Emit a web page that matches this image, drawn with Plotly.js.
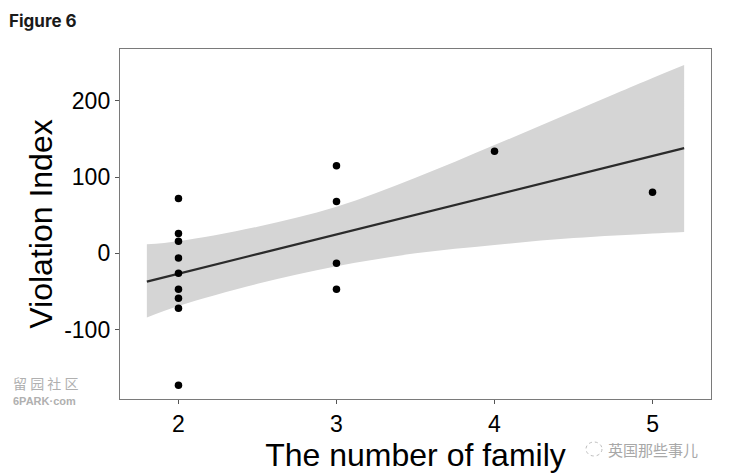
<!DOCTYPE html>
<html>
<head>
<meta charset="utf-8">
<script src="https://cdn.plot.ly/plotly-3.0.1.min.js"></script>
<style>
  html, body { margin: 0; padding: 0; background: #fff; }
  #chart { width: 736px; height: 476px; }
</style>
</head>
<body>
<div id="chart"></div>
<script>
// Observed points
const familyX = [2, 2, 2, 2, 2, 2, 2, 2, 2, 3, 3, 3, 3, 4, 5];
const violationY = [72, 26, 16, -6, -26, -47, -59, -72, -173, 115, 68, -13, -47, 134, 80];

// Fitted regression line
const fitX = [1.8, 5.2];
const fitY = [-37, 138];

// Confidence band edges
const bandX = [1.8, 2, 2.5, 3, 3.5, 4, 4.5, 5, 5.2];
const bandUpper = [12, 16, 35, 61, 99, 142, 186, 230, 247];
const bandLower = [-84, -69, -40, -17, 0, 11, 20, 26, 28];

// Axis ticks
const xTicks = [2, 3, 4, 5];
const yTicks = [-100, 0, 100, 200];

const FONT = 'Liberation Sans, Arial, Helvetica, sans-serif';

const traces = [
  {
    x: bandX, y: bandLower, type: 'scatter', mode: 'lines',
    line: { width: 0, color: 'rgba(0,0,0,0)', shape: 'spline', smoothing: 1 },
    hoverinfo: 'skip', showlegend: false
  },
  {
    x: bandX, y: bandUpper, type: 'scatter', mode: 'lines',
    line: { width: 0, color: 'rgba(0,0,0,0)', shape: 'spline', smoothing: 1 },
    fill: 'tonexty', fillcolor: 'rgb(213,213,213)', hoverinfo: 'skip', showlegend: false
  },
  {
    x: fitX, y: fitY, type: 'scatter', mode: 'lines',
    line: { width: 2.2, color: '#2b2b2b' }, showlegend: false
  },
  {
    x: familyX, y: violationY, type: 'scatter', mode: 'markers',
    marker: { size: 7.5, color: '#000' }, showlegend: false
  }
];

const layout = {
  width: 736, height: 476,
  margin: { l: 120, r: 25, t: 49, b: 77 },
  paper_bgcolor: '#fff', plot_bgcolor: '#fff',
  font: { family: FONT, color: '#000' },
  xaxis: {
    range: [1.63, 5.37], tickvals: xTicks, ticktext: xTicks.map(String),
    showgrid: false, zeroline: false,
    showline: true, mirror: true, linecolor: '#7a7a7a', linewidth: 1.2,
    ticks: 'outside', ticklen: 4, tickwidth: 1.2, tickcolor: '#555',
    tickfont: { size: 23, family: FONT, color: '#000' },
    title: { text: 'The number of family', font: { size: 32, family: FONT, color: '#000' }, standoff: 6 }
  },
  yaxis: {
    range: [-191, 268], tickvals: yTicks, ticktext: yTicks.map(String),
    showgrid: false, zeroline: false,
    showline: true, mirror: true, linecolor: '#7a7a7a', linewidth: 1.2,
    ticks: 'outside', ticklen: 4, tickwidth: 1.2, tickcolor: '#555',
    tickfont: { size: 23, family: FONT, color: '#000' },
    title: { text: 'Violation Index', font: { size: 32, family: FONT, color: '#000' }, standoff: 2 }
  },
  annotations: [
    {
      text: '<b>Figure 6</b>', xref: 'paper', yref: 'paper',
      x: -113/591, y: 1 + 28/350, xanchor: 'left', yanchor: 'middle',
      showarrow: false, font: { size: 17, family: 'Inter, Liberation Sans, sans-serif', color: '#1a1a1a' }
    },
    {
      text: '留 园 社 区', xref: 'paper', yref: 'paper',
      x: -109/591, y: -(383-399)/350, xanchor: 'left', yanchor: 'middle',
      showarrow: false, font: { size: 14, family: 'Noto Sans CJK SC, sans-serif', color: '#b0b0b0' }
    },
    {
      text: '<b>6PARK·com</b>', xref: 'paper', yref: 'paper',
      x: -109/591, y: -(401-399)/350, xanchor: 'left', yanchor: 'middle',
      showarrow: false, font: { size: 11, family: FONT, color: '#b0b0b0' }
    },
    {
      text: '英国那些事儿', xref: 'paper', yref: 'paper',
      x: (606-120)/591, y: -(449-399)/350, xanchor: 'left', yanchor: 'middle',
      showarrow: false, font: { size: 15, family: 'Noto Sans CJK SC, sans-serif', color: '#a8a8a8' }
    }
  ],
  shapes: [
    {
      type: 'circle', xref: 'paper', yref: 'paper',
      x0: (586-120)/591, x1: (602-120)/591,
      y0: -(456-399)/350, y1: -(442-399)/350,
      line: { color: '#bdbdbd', width: 1, dash: 'dot' }
    }
  ]
};

Plotly.newPlot('chart', traces, layout, { displayModeBar: false, staticPlot: true });
</script>
</body>
</html>
